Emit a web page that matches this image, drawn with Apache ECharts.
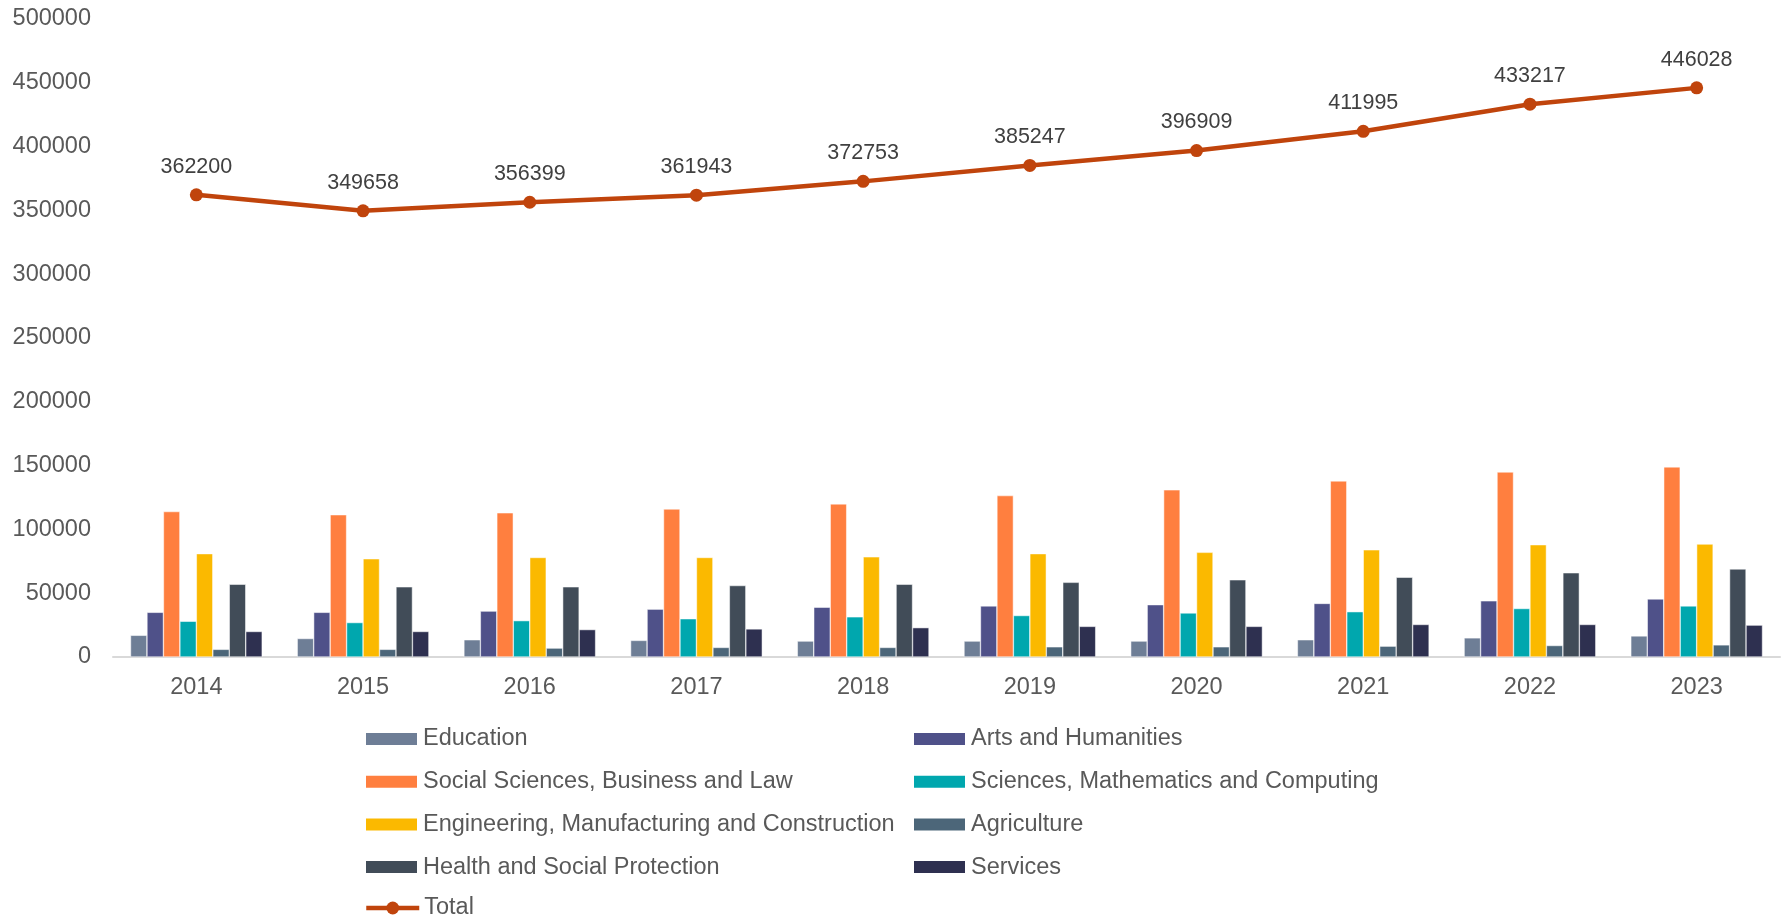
<!DOCTYPE html>
<html>
<head>
<meta charset="utf-8">
<script src="https://cdn.jsdelivr.net/npm/echarts@6/dist/echarts.min.js"></script>
<style>
html,body{margin:0;padding:0;background:#fff;}
#chart{width:1783px;height:920px;}
</style>
</head>
<body>
<div id="chart"></div>
<script>
const years = ['2014','2015','2016','2017','2018','2019','2020','2021','2022','2023'];
const education   = [17000, 14500, 13500, 13000, 12500, 12500, 12500, 13500, 15000, 16500];
const arts        = [35000, 35000, 36000, 37500, 39000, 40000, 41000, 42000, 44000, 45500];
const social      = [114000, 111500, 113000, 116000, 120000, 126500, 131000, 138000, 145000, 149000];
const sciences    = [28000, 27000, 28500, 30000, 31500, 32500, 34500, 35500, 38000, 40000];
const engineering = [81000, 77000, 78000, 78000, 78500, 81000, 82000, 84000, 88000, 88500];
const agriculture = [6000, 6000, 7000, 7500, 7500, 8000, 8000, 8500, 9000, 9500];
const health      = [57000, 55000, 55000, 56000, 57000, 58500, 60500, 62500, 66000, 69000];
const services    = [20000, 20000, 21500, 22000, 23000, 24000, 24000, 25500, 25500, 25000];
const total       = [362200, 349658, 356399, 361943, 372753, 385247, 396909, 411995, 433217, 446028];
const yTicks = { min: 0, max: 500000, interval: 50000 };

const barDefs = [
  ['Education', education, '#6E7E96'],
  ['Arts and Humanities', arts, '#4F5189'],
  ['Social Sciences, Business and Law', social, '#FF7F3F'],
  ['Sciences, Mathematics and Computing', sciences, '#00A7AE'],
  ['Engineering, Manufacturing and Construction', engineering, '#FBB900'],
  ['Agriculture', agriculture, '#4C6679'],
  ['Health and Social Protection', health, '#414C58'],
  ['Services', services, '#2E3050']
];

const FONT = 'Liberation Sans, Arial, sans-serif';
const series = barDefs.map(([name, data, color]) => ({
  name, type: 'bar', data,
  barGap: '0%', barCategoryGap: '21%',
  itemStyle: { color, borderColor: '#fff', borderWidth: 0.5 }
}));
series.push({
  name: 'Total', type: 'line', data: total,
  symbol: 'circle', symbolSize: 13,
  lineStyle: { color: '#C0440C', width: 4.5 },
  itemStyle: { color: '#C0440C' },
  label: { show: true, position: 'top', distance: 10.5, color: '#404040', fontSize: 21.5, fontFamily: FONT },
  z: 5
});

const legendCommon = {
  orient: 'vertical', itemWidth: 53, itemHeight: 14, itemGap: 18.7, padding: 0,
  textStyle: { color: '#595959', fontSize: 23.5, fontFamily: FONT, lineHeight: 24 }
};

const chart = echarts.init(document.getElementById('chart'));
chart.setOption({
  animation: false,
  backgroundColor: '#fff',
  grid: { left: 113, right: 3, top: 19, bottom: 263, containLabel: false },
  xAxis: {
    type: 'category', data: years,
    axisLine: { lineStyle: { color: '#D9D9D9', width: 2 } },
    axisTick: { show: false },
    axisLabel: { color: '#595959', fontSize: 23.5, fontFamily: FONT, margin: 18.5 }
  },
  yAxis: {
    type: 'value', min: yTicks.min, max: yTicks.max, interval: yTicks.interval,
    axisLine: { show: false }, axisTick: { show: false },
    splitLine: { show: false },
    axisLabel: { color: '#595959', fontSize: 23.5, fontFamily: FONT, margin: 22, formatter: v => String(v) }
  },
  legend: [
    Object.assign({}, legendCommon, { left: 364, top: 727, icon: 'rect',
      data: ['Education', 'Social Sciences, Business and Law', 'Engineering, Manufacturing and Construction', 'Health and Social Protection'] }),
    Object.assign({}, legendCommon, { left: 912, top: 727, icon: 'rect',
      data: ['Arts and Humanities', 'Sciences, Mathematics and Computing', 'Agriculture', 'Services'] }),
    Object.assign({}, legendCommon, { left: 364, top: 896, itemHeight: 16,
      lineStyle: { width: 4.5 },
      data: ['Total'] })
  ],
  series
});
</script>
</body>
</html>
